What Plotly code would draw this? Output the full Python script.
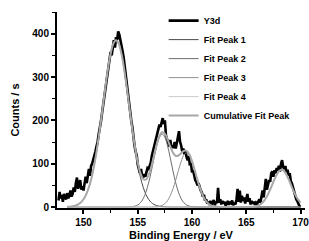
import numpy as np
import plotly.graph_objects as go

# ---- measured spectrum (Y3d), 0.1 eV steps from 147.7 to 170.0 eV ----
energy = np.round(np.arange(147.7, 170.05, 0.1), 1)
counts = [
    15, 35, 20, 28, 12, 30, 22, 18, 32, 20, 26, 38, 24, 30, 45, 35, 55, 68, 42, 50,
    62, 40, 48, 38, 58, 70, 55, 78, 88, 72, 95, 100, 108, 118,
    128, 140, 150, 168, 180, 196, 215, 232, 250, 268,
    288, 305, 322, 340, 358, 350, 372, 385, 368, 392,
    385, 405, 398, 382, 370, 360, 345, 322, 305, 282,
    262, 240, 220, 200, 185, 160, 142, 128, 120, 98,
    85, 78, 88, 72, 68, 76, 70, 82, 90,
    88, 95, 102, 118, 128, 140, 148, 160, 166, 175,
    190, 185, 200, 205, 192, 200, 165, 158, 150, 140,
    155, 138, 142, 136, 150, 135, 148, 165, 175, 150,
    142, 128, 135, 122, 130, 115, 108, 118, 96, 102,
    80, 85, 68, 62, 58, 50, 55, 42, 38, 34,
    24, 28, 15, 18, 8, 12,
    5, 14, 6, 10,
    16, 4, 12, 9, 44, 10, 18, 6, 14, 8,
    12, 3, 10, 14, 5, 12, 9, 15, 4, 10,
    6, 18, 42, 12, 38, 10, 26, 14, 22, 8,
    18, 30, 12, 20, 6, 14, 8, 12, 5, 10,
    7, 14, 18, 10, 28, 38, 22, 50, 65, 40,
    55, 62, 58, 78, 82, 70, 85, 78, 90, 84,
    95, 82, 100, 108, 92, 88, 95, 80, 86, 72,
    78, 60, 55, 45, 38, 30, 18, 14, 5, 2,
    0,
]

# ---- fitted peaks, 0.25 eV steps from 148.5 to 170.0 eV ----
fit_energy = np.round(np.arange(148.5, 170.001, 0.25), 2)
peak1 = [
    0.4, 0.8, 1.6, 3.2, 5.9, 10.4, 17.8, 29.1, 45.5, 68.3, 98.2, 135.3, 178.5, 225.8,
    273.6, 317.7, 353.5, 376.9, 385.0, 376.9, 353.5, 317.7, 273.6, 225.8, 178.5, 135.3,
    98.2, 68.3, 45.5, 29.1, 17.8, 10.4, 5.9, 3.2, 1.6, 0.8, 0.4, 0.2,
    0, 0, 0, 0, 0, 0, 0, 0, 0, 0, 0, 0, 0, 0, 0, 0, 0, 0, 0, 0, 0, 0, 0, 0, 0,
    0, 0, 0, 0, 0, 0, 0, 0, 0, 0, 0, 0, 0, 0, 0, 0, 0, 0, 0, 0, 0, 0, 0, 0,
]
peak2 = [
    0, 0, 0, 0, 0, 0, 0, 0, 0, 0, 0, 0, 0, 0, 0, 0, 0, 0, 0, 0, 0, 0, 0,
    0.3, 0.8, 2.0, 4.6, 9.9, 19.2, 34.1, 55.5, 82.7, 112.8, 140.7, 160.7, 168.0,
    160.7, 140.7, 112.8, 82.7, 55.5, 34.1, 19.2, 9.9, 4.6, 2.0, 0.8, 0.3,
    0, 0, 0, 0, 0, 0, 0, 0, 0, 0, 0, 0, 0, 0, 0, 0, 0, 0, 0, 0, 0, 0, 0, 0, 0,
    0, 0, 0, 0, 0, 0, 0, 0, 0, 0, 0, 0, 0, 0,
]
peak3 = [
    0, 0, 0, 0, 0, 0, 0, 0, 0, 0, 0, 0, 0, 0, 0, 0, 0, 0, 0, 0, 0, 0, 0, 0, 0, 0,
    0, 0, 0, 0, 0, 0,
    0.3, 0.7, 1.7, 3.8, 7.9, 15.0, 26.4, 42.4, 62.6, 84.7, 105.1, 119.7, 125.0,
    119.7, 105.1, 84.7, 62.6, 42.4, 26.4, 15.0, 7.9, 3.8, 1.7, 0.7, 0.3,
    0, 0, 0, 0, 0, 0, 0, 0, 0, 0, 0, 0, 0, 0, 0, 0, 0, 0, 0, 0, 0, 0, 0, 0, 0, 0,
    0, 0, 0, 0,
]
peak4 = [
    0, 0, 0, 0, 0, 0, 0, 0, 0, 0, 0, 0, 0, 0, 0, 0, 0, 0, 0, 0, 0, 0, 0, 0, 0, 0,
    0, 0, 0, 0, 0, 0, 0, 0, 0, 0, 0, 0, 0, 0, 0, 0, 0, 0, 0, 0, 0, 0, 0, 0, 0, 0,
    0, 0, 0, 0, 0, 0, 0, 0, 0, 0, 0, 0, 0, 0, 0, 0,
    0.5, 1.1, 2.6, 5.4, 10.3, 18.1, 29.2, 43.0, 58.3, 72.3, 82.4, 86.0,
    82.4, 72.3, 58.3, 43.0, 29.2, 18.1, 10.3,
]
cumulative = np.array(peak1) + np.array(peak2) + np.array(peak3) + np.array(peak4)

x_ticks = [150, 155, 160, 165, 170]
y_ticks = [0, 100, 200, 300, 400]

FONT = "Liberation Sans, Arial, sans-serif"

fig = go.Figure()
fig.add_trace(go.Scatter(x=energy, y=counts, mode="lines", name="Y3d",
                         line=dict(color="black", width=2.6)))
peak_styles = [("Fit Peak 1", peak1, "#4a4a4a"),
               ("Fit Peak 2", peak2, "#6e6e6e"),
               ("Fit Peak 3", peak3, "#909090"),
               ("Fit Peak 4", peak4, "#cccccc")]
for name, vals, col in peak_styles:
    fig.add_trace(go.Scatter(x=fit_energy, y=vals, mode="lines", name=name,
                             line=dict(color=col, width=1, shape="spline")))
fig.add_trace(go.Scatter(x=fit_energy, y=cumulative, mode="lines",
                         name="Cumulative Fit Peak",
                         line=dict(color="#a8a8a8", width=2, shape="spline")))

axis_common = dict(showgrid=False, zeroline=False, showline=True, linecolor="black",
                   linewidth=2, ticks="outside", ticklen=4, tickwidth=1.5,
                   tickcolor="black", automargin=False, ticklabeloverflow="allow",
                   tickfont=dict(family=FONT, size=10, color="black", weight="bold"))

fig.update_layout(
    width=309, height=241,
    margin=dict(l=57, r=4, t=12, b=33),
    paper_bgcolor="white", plot_bgcolor="white",
    font=dict(family=FONT, color="black"),
    xaxis=dict(range=[147.56, 170.41], tickvals=x_ticks,
               minor=dict(dtick=2.5, tick0=150, ticks="outside", ticklen=3,
                          tickwidth=1.2, tickcolor="black"),
               title=dict(text="Binding Energy / eV", standoff=4,
                          font=dict(family=FONT, size=11, weight="bold")),
               **axis_common),
    yaxis=dict(range=[-2.3, 450], tickvals=y_ticks,
               minor=dict(dtick=50, tick0=0, ticks="outside", ticklen=3,
                          tickwidth=1.2, tickcolor="black"),
               title=dict(text="Counts / s", standoff=10,
                          font=dict(family=FONT, size=11, weight="bold")),
               **axis_common),
    legend=dict(x=0.43, y=1.03, xanchor="left", yanchor="top",
                bgcolor="rgba(0,0,0,0)", borderwidth=0, maxheight=230,
                font=dict(family=FONT, size=9, color="black", weight="bold"),
                itemwidth=30),
    showlegend=True,
)

fig.write_html("out.html", config={"displayModeBar": False},
               post_script="document.body.style.margin='0px';")
